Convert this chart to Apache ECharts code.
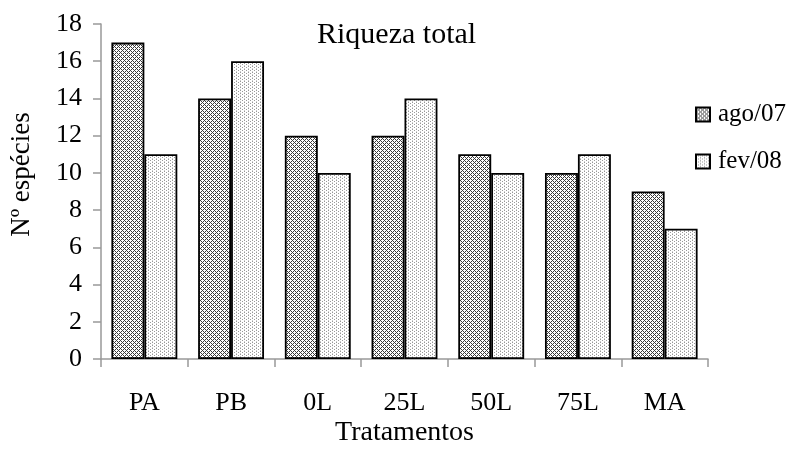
<!DOCTYPE html>
<html>
<head>
<meta charset="utf-8">
<script src="https://cdn.jsdelivr.net/npm/echarts@6/dist/echarts.min.js"></script>
<style>html,body{margin:0;padding:0;background:#fff;}#c{width:789px;height:459px;}</style>
</head>
<body>
<div id="c"></div>
<script>
const categories = ['PA', 'PB', '0L', '25L', '50L', '75L', 'MA'];
const ago07 = [17, 14, 12, 12, 11, 10, 9];
const fev08 = [11, 16, 10, 14, 10, 11, 7];
const seriesNames = ['ago/07', 'fev/08'];
const yTicks = { min: 0, max: 18, interval: 2 };

function makeCross() {
  const c = document.createElement('canvas');
  c.width = 4; c.height = 4;
  const ctx = c.getContext('2d');
  ctx.fillStyle = '#ffffff'; ctx.fillRect(0, 0, 4, 4);
  ctx.fillStyle = '#3a3a3a';
  for (let x = 0; x < 4; x++) for (let y = 0; y < 4; y++) {
    if ((x + y) % 4 === 0 || ((x - y) + 4) % 4 === 0) ctx.fillRect(x, y, 1, 1);
  }
  return c;
}
function makeDots() {
  const c = document.createElement('canvas');
  c.width = 4; c.height = 3;
  const ctx = c.getContext('2d');
  ctx.fillStyle = '#ffffff'; ctx.fillRect(0, 0, 4, 3);
  ctx.fillStyle = '#999999';
  ctx.fillRect(0, 0, 1, 1); ctx.fillRect(2, 1, 1, 1);
  ctx.fillStyle = '#cccccc';
  ctx.fillRect(0, 2, 1, 1);
  return c;
}

const font = '"Liberation Serif", "Times New Roman", serif';
const chart = echarts.init(document.getElementById('c'), null, { renderer: 'canvas' });
chart.setOption({
  animation: false,
  backgroundColor: '#ffffff',
  textStyle: { fontFamily: font, color: '#000' },
  title: {
    text: 'Riqueza total',
    left: 312, top: 15,
    textStyle: { fontFamily: font, fontSize: 30, fontWeight: 'normal', color: '#000' }
  },
  legend: {
    orient: 'vertical',
    left: 695, top: 102,
    padding: 0,
    itemWidth: 14, itemHeight: 14, itemGap: 22,
    icon: 'rect',
    textStyle: { fontFamily: font, fontSize: 25, color: '#000', lineHeight: 25, padding: [0, 0, 0, 3] },
    data: seriesNames
  },
  grid: { left: 101, right: 81, top: 24, bottom: 100, containLabel: false },
  xAxis: {
    type: 'category',
    data: categories,
    name: 'Tratamentos',
    nameLocation: 'middle',
    nameGap: 60,
    nameMoveOverlap: false,
    nameTextStyle: { fontFamily: font, fontSize: 28, color: '#000' },
    axisLine: { lineStyle: { color: '#999', width: 1.5 } },
    axisTick: { show: true, alignWithLabel: false, length: 8, lineStyle: { color: '#999', width: 1.5 } },
    axisLabel: { fontFamily: font, fontSize: 26, color: '#000', margin: 31 }
  },
  yAxis: {
    type: 'value',
    min: yTicks.min, max: yTicks.max, interval: yTicks.interval,
    name: 'Nº espécies',
    nameLocation: 'middle',
    nameGap: 66,
    nameMoveOverlap: false,
    nameTextStyle: { fontFamily: font, fontSize: 27, color: '#000', padding: [0, 0, 0, 34] },
    axisLine: { show: true, lineStyle: { color: '#999', width: 1.5 } },
    axisTick: { show: true, length: 8, lineStyle: { color: '#999', width: 1.5 } },
    splitLine: { show: false },
    axisLabel: { fontFamily: font, fontSize: 26, color: '#000', margin: 19 }
  },
  series: [
    {
      name: seriesNames[0], type: 'bar', data: ago07,
      barGap: '0%', barCategoryGap: '24%',
      itemStyle: { color: { image: makeCross(), repeat: 'repeat' }, borderColor: '#000', borderWidth: 1.8 }
    },
    {
      name: seriesNames[1], type: 'bar', data: fev08,
      barGap: '0%', barCategoryGap: '24%',
      itemStyle: { color: { image: makeDots(), repeat: 'repeat' }, borderColor: '#000', borderWidth: 1.8 }
    }
  ]
});
</script>
</body>
</html>
